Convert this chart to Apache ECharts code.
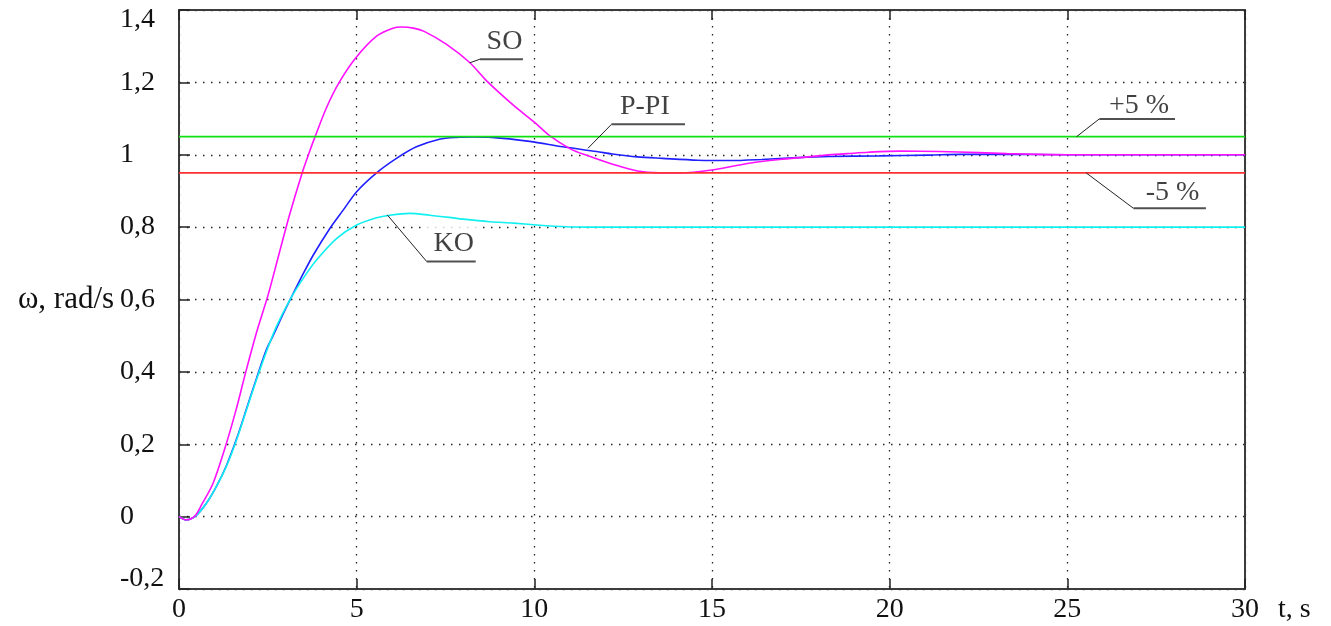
<!DOCTYPE html>
<html>
<head>
<meta charset="utf-8">
<script src="https://cdn.jsdelivr.net/npm/echarts@6/dist/echarts.min.js"></script>
<style>
  html, body { margin: 0; padding: 0; background: #fff; }
  #chart { width: 1331px; height: 626px; }
</style>
</head>
<body>
<div id="chart"></div>
<script>
// Speed response ω(t) of three tuned controllers, with the ±5 % tolerance band.

const soT = [0, 0.2, 0.45, 0.65, 0.95, 1.27, 1.6, 1.88, 2.2, 2.5, 2.8, 3.1, 3.45, 3.66, 3.83, 4.15, 4.52, 5.0, 5.56, 6.0, 6.26, 6.6, 6.9, 7.53, 8.18, 8.65, 9.4, 10.0, 10.44, 11.0, 11.45, 12.2, 12.9, 13.5, 14.1, 15.0, 16.0, 16.9, 17.7, 18.2, 18.8, 19.4, 20.3, 21.4, 22.5, 23.3, 24.2, 25, 30];
const soV = [0, -0.009, 0.002, 0.035, 0.09, 0.182, 0.293, 0.40, 0.515, 0.61, 0.72, 0.83, 0.945, 1.005, 1.05, 1.13, 1.202, 1.271, 1.328, 1.349, 1.353, 1.350, 1.341, 1.305, 1.255, 1.205, 1.138, 1.09, 1.052, 1.017, 0.999, 0.974, 0.955, 0.950, 0.950, 0.958, 0.976, 0.987, 0.994, 0.999, 1.003, 1.007, 1.010, 1.009, 1.006, 1.003, 1.001, 1.0, 1.0];

const ppiT = [0, 0.2, 0.47, 0.77, 1.05, 1.33, 1.62, 1.9, 2.18, 2.46, 2.65, 2.94, 3.17, 3.5, 3.78, 4.25, 4.62, 5.0, 5.56, 6.12, 6.68, 7.33, 7.8, 8.3, 8.8, 9.87, 10.8, 11.75, 12.2, 12.9, 13.6, 14.6, 15.5, 16.4, 17.4, 18.3, 19.7, 21.1, 22.0, 23.3, 25, 30];
const ppiV = [0, -0.009, 0.002, 0.037, 0.083, 0.14, 0.215, 0.298, 0.382, 0.462, 0.50, 0.562, 0.608, 0.672, 0.723, 0.797, 0.847, 0.898, 0.95, 0.99, 1.022, 1.043, 1.048, 1.049, 1.048, 1.037, 1.022, 1.009, 1.002, 0.994, 0.990, 0.985, 0.984, 0.987, 0.992, 0.995, 0.997, 0.999, 1.001, 1.001, 1.0, 1.0];

const koT = [0, 0.2, 0.47, 0.77, 1.05, 1.33, 1.62, 1.9, 2.18, 2.46, 2.74, 3.12, 3.5, 3.87, 4.44, 5.0, 5.56, 5.93, 6.5, 7.06, 7.6, 8.0, 8.75, 9.41, 10.06, 10.9, 11.5, 30];
const koV = [0, -0.009, 0.002, 0.037, 0.083, 0.138, 0.212, 0.295, 0.378, 0.456, 0.525, 0.599, 0.659, 0.709, 0.769, 0.806, 0.826, 0.833, 0.838, 0.833, 0.827, 0.822, 0.815, 0.811, 0.806, 0.801, 0.80, 0.80];

// tolerance band around the set value 1
const bandUpper = 1.05;
const bandLower = 0.95;
const tRange = [0, 30];

// curve labels: text, text centre, and the leader (point on curve, knee, end of underline)
const labelNames = ['SO', 'P-PI', 'KO', '+5 %', '-5 %'];
const labelPos = [[9.16, 1.312], [13.11, 1.133], [7.73, 0.755], [27.02, 1.135], [27.96, 0.894]];
const leaders = [
  [[8.18, 1.254], [8.47, 1.264], [9.68, 1.264]],
  [[11.51, 1.018], [12.17, 1.084], [14.24, 1.084]],
  [[5.86, 0.834], [6.97, 0.705], [8.35, 0.705]],
  [[25.26, 1.05], [25.9, 1.099], [28.03, 1.099]],
  [[25.53, 0.95], [26.86, 0.852], [28.9, 0.852]]
];

const FONT = '"Liberation Serif", "DejaVu Serif", serif';
const zip = (xs, ys) => xs.map((x, i) => [x, ys[i]]);

const gridDots = { color: '#222', width: 1.3, type: [1.5, 6.5] };
const frame = { show: true, onZero: false, lineStyle: { color: '#3c3c3c', width: 2 } };
const ticksIn = { show: true, inside: true, length: 10, lineStyle: { color: '#222', width: 1.5 } };

const chart = echarts.init(document.getElementById('chart'));
chart.setOption({
  backgroundColor: '#fff',
  animation: false,
  grid: { left: 179, right: 86, top: 10, bottom: 37 },
  xAxis: [
    {
      type: 'value', min: 0, max: 30, interval: 5, position: 'bottom',
      axisLine: frame, axisTick: ticksIn,
      splitLine: { show: true, lineStyle: gridDots },
      axisLabel: { color: '#111', fontFamily: FONT, fontSize: 28, margin: 7 },
      name: 't, s', nameLocation: 'end', nameGap: 33,
      nameTextStyle: { color: '#111', fontFamily: FONT, fontSize: 28, verticalAlign: 'top', align: 'left', padding: [7, 0, 0, 0] }
    },
    {
      type: 'value', min: 0, max: 30, interval: 5, position: 'top',
      axisLine: frame, axisTick: ticksIn,
      axisLabel: { show: false }, splitLine: { show: false }
    }
  ],
  yAxis: [
    {
      type: 'value', min: -0.2, max: 1.4, interval: 0.2, position: 'left',
      axisLine: frame, axisTick: Object.assign({}, ticksIn, { length: 11 }),
      splitLine: { show: true, lineStyle: gridDots },
      axisLabel: {
        color: '#111', fontFamily: FONT, fontSize: 28, lineHeight: 20, align: 'left', margin: 59,
        verticalAlignMaxLabel: 'top', verticalAlignMinLabel: 'bottom',
        formatter: v => (Math.round(v * 10) / 10).toString().replace('.', ',')
      },
      name: 'ω, rad/s', nameLocation: 'middle', nameRotate: 0, nameGap: 64,
      nameTextStyle: { color: '#111', fontFamily: FONT, fontSize: 31, padding: [4, 0, 0, 0] }
    },
    {
      type: 'value', min: -0.2, max: 1.4, interval: 0.2, position: 'right',
      axisLine: frame, axisTick: { show: false }, axisLabel: { show: false }, splitLine: { show: false }
    }
  ],
  series: [
    {
      type: 'scatter', z: 1, symbolSize: 0, silent: true,
      data: labelNames.map((n, i) => ({ name: n, value: labelPos[i] })),
      label: {
        show: true, position: 'inside', formatter: p => p.name,
        color: '#111', fontFamily: FONT, fontSize: 28,
        backgroundColor: '#fff', padding: [5, 9, 2, 9]
      }
    },
    { type: 'line', z: 2, name: 'P-PI', data: zip(ppiT, ppiV), showSymbol: false, smooth: 0.3, lineStyle: { color: '#2020ff', width: 1.6 } },
    { type: 'line', z: 2, name: 'KO', data: zip(koT, koV), showSymbol: false, smooth: 0.3, lineStyle: { color: '#10f0f0', width: 1.6 } },
    { type: 'line', z: 2, name: 'SO', data: zip(soT, soV), showSymbol: false, smooth: 0.3, lineStyle: { color: '#ff10ff', width: 1.6 } },
    { type: 'line', z: 3, data: tRange.map(t => [t, bandUpper]), showSymbol: false, lineStyle: { color: '#10e010', width: 1.6 } },
    { type: 'line', z: 3, data: tRange.map(t => [t, bandLower]), showSymbol: false, lineStyle: { color: '#ff3030', width: 1.6 } },
    {
      type: 'lines', z: 4, coordinateSystem: 'cartesian2d', polyline: true, silent: true,
      data: leaders.map(l => ({ coords: [l[0], l[1]] })),
      lineStyle: { color: '#222', width: 1, opacity: 1 }
    },
    {
      type: 'lines', z: 4, coordinateSystem: 'cartesian2d', polyline: true, silent: true,
      data: leaders.map(l => ({ coords: [l[1], l[2]] })),
      lineStyle: { color: '#505050', width: 2, opacity: 1 }
    }
  ]
});
</script>
</body>
</html>
